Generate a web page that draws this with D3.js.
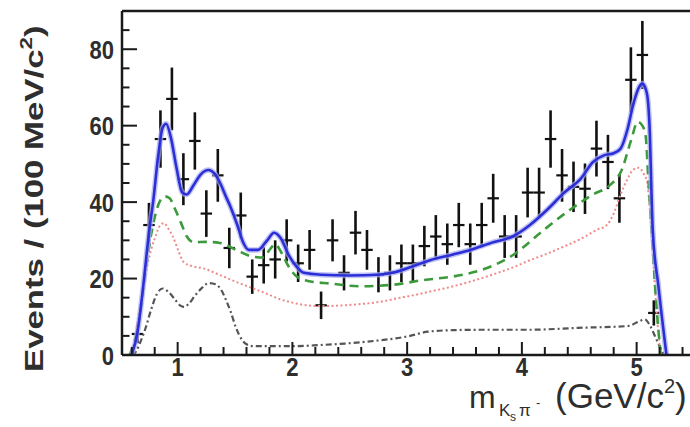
<!DOCTYPE html>
<html>
<head>
<meta charset="utf-8">
<script src="https://cdn.jsdelivr.net/npm/d3@7"></script>
<style>
  html, body { margin: 0; padding: 0; background: #fff; }
  svg { display: block; }
</style>
</head>
<body>
<svg id="chart" width="690" height="427"></svg>
<script>
// ---------- data ----------
const binCenters = [0.65,0.75,0.85,0.95,1.05,1.15,1.25,1.35,1.45,1.55,1.65,1.75,1.85,1.95,2.05,2.15,2.25,2.35,2.45,2.55,2.65,2.75,2.85,2.95,3.05,3.15,3.25,3.35,3.45,3.55,3.65,3.75,3.85,3.95,4.05,4.15,4.25,4.35,4.45,4.55,4.65,4.75,4.85,4.95,5.05,5.15];
const counts =     [5.5,34,56.5,67,46,56,37,47,28,36.5,20.5,23.5,25,30,24,27.5,13,30,21.5,32,27.5,21,21.5,24,24,28.5,31,29,34,29,34,41,31,31,42.5,42.5,56.5,47,44,43.5,54,50.5,41,72,78.5,11];
const errors =     [2.4,5.8,7.5,8.2,6.8,7.5,6.1,6.9,5.3,6.0,4.5,4.8,5.0,5.5,4.9,5.2,3.6,5.5,4.6,5.7,5.2,4.6,4.6,4.9,4.9,5.3,5.6,5.4,5.8,5.4,5.8,6.4,5.6,5.6,6.5,6.5,7.5,6.9,6.6,6.6,7.3,7.1,6.4,8.5,8.9,3.3];
const binWidth = 0.1;

// fit components: [mass, events]
const totalFit = [[0.60,0],[0.65,6],[0.70,18],[0.75,32],[0.79,41],[0.83,52],[0.87,59.5],[0.90,60.5],[0.94,57],[0.99,49],[1.04,42.5],[1.08,42],[1.14,44.5],[1.20,47.2],[1.27,48.4],[1.32,47.5],[1.37,45],[1.42,41.5],[1.46,38.8],[1.52,34],[1.57,29.5],[1.62,27.5],[1.70,27.5],[1.78,30],[1.84,32],[1.90,30.5],[1.97,26],[2.04,23],[2.10,21.5],[2.25,21],[2.50,20.8],[2.75,21],[2.90,21.7],[3.05,23.2],[3.20,24.8],[3.40,26.3],[3.55,27.5],[3.75,29.5],[3.92,31],[4.07,34],[4.22,38],[4.37,42.5],[4.51,46],[4.62,50.5],[4.72,52.3],[4.80,52.8],[4.86,54],[4.92,59],[4.97,65.5],[5.02,70],[5.05,71],[5.08,69.5],[5.10,66],[5.115,58],[5.13,42],[5.14,33],[5.19,18],[5.26,0]];
const compA = [[0.58,0],[0.62,3],[0.67,10],[0.72,22],[0.76,30],[0.80,36],[0.85,40.5],[0.89,41.5],[0.93,41],[0.98,38],[1.03,34.5],[1.08,31],[1.14,29.5],[1.25,29.6],[1.37,29.3],[1.51,27.5],[1.66,25.7],[1.75,25.5],[1.80,27.5],[1.85,29],[1.90,27],[1.97,23],[2.04,20.5],[2.15,19.3],[2.33,18.7],[2.59,18],[2.85,18.3],[3.14,19.6],[3.43,20.7],[3.69,22.7],[3.92,26.1],[4.19,32.7],[4.42,38],[4.62,42],[4.77,44.5],[4.87,48.4],[4.95,56],[5.01,61],[5.05,60],[5.08,57],[5.10,47],[5.13,33],[5.17,14],[5.21,0]];
const compB = [[0.60,0],[0.63,5],[0.68,14],[0.74,24],[0.80,30.5],[0.85,34],[0.88,34.5],[0.92,33],[0.96,30.9],[1.01,27],[1.05,24.4],[1.12,23.3],[1.22,22.7],[1.37,20.9],[1.52,19],[1.66,17.4],[1.78,16],[1.89,14.6],[2.00,13.7],[2.10,13.1],[2.24,12.8],[2.45,13],[2.62,13.4],[2.78,14],[2.91,14.8],[3.05,15.6],[3.20,16.6],[3.35,17.6],[3.49,18.7],[3.64,20],[3.78,21.4],[3.93,23],[4.07,24.8],[4.22,26.5],[4.36,28.3],[4.50,30.2],[4.65,32.7],[4.74,34],[4.80,37],[4.86,42],[4.92,46],[4.97,48.5],[5.02,49],[5.06,47.5],[5.09,45.5],[5.12,36],[5.15,22],[5.18,9],[5.21,0]];
const compC = [[0.60,0],[0.64,1],[0.67,3],[0.72,7],[0.77,12],[0.82,16],[0.87,17.4],[0.92,16.5],[0.97,14.8],[1.02,13],[1.06,12.6],[1.10,13.5],[1.15,15.5],[1.21,17.5],[1.27,18.8],[1.33,18.5],[1.38,17],[1.42,14.5],[1.46,11.5],[1.51,7],[1.56,4],[1.60,2.8],[1.66,2.3],[2.00,2.3],[2.24,2.6],[2.46,3],[2.75,3.8],[3.01,4.9],[3.18,6.1],[3.40,6.5],[3.62,6.6],[4.06,6.6],[4.49,7.1],[4.93,7.6],[5.02,8.8],[5.07,9.3],[5.12,7.5],[5.16,4.9],[5.20,2.3],[5.24,0]];

const xMajorTicks = [1,2,3,4,5];
const xMinorTicks = [0.6,0.8,1.2,1.4,1.6,1.8,2.2,2.4,2.6,2.8,3.2,3.4,3.6,3.8,4.2,4.4,4.6,4.8,5.2,5.4];
const yMajorTicks = [0,20,40,60,80];
const yMinorTicks = [5,10,15,25,30,35,45,50,55,65,70,75,85];

// ---------- layout ----------
const svg = d3.select("#chart");
const x = d3.scaleLinear().domain([0.515, 5.5]).range([122, 694]);
const y = d3.scaleLinear().domain([0, 90]).range([355, 11]);
const font = "'Liberation Sans', Arial, Helvetica, sans-serif";
const axisColor = "#1a1a1a";
const labelColor = "#2e2e2e";

// ---------- data points ----------
const pts = svg.append("g");
binCenters.forEach((c, i) => {
  pts.append("line")
    .attr("x1", x(c)).attr("x2", x(c))
    .attr("y1", y(counts[i] - errors[i])).attr("y2", y(Math.min(counts[i] + errors[i], 90)))
    .attr("stroke", "#111").attr("stroke-width", 2.6);
  pts.append("line")
    .attr("x1", x(c - binWidth / 2)).attr("x2", x(c + binWidth / 2))
    .attr("y1", y(counts[i])).attr("y2", y(counts[i]))
    .attr("stroke", "#111").attr("stroke-width", 2.2);
});

// ---------- curves ----------
const line = d3.line().x(d => x(d[0])).y(d => y(d[1])).curve(d3.curveMonotoneX);
const curves = svg.append("g").attr("fill", "none");
curves.append("path").attr("d", line(compC))
  .attr("stroke", "#555").attr("stroke-width", 2.2).attr("stroke-dasharray", "6,3,2,3");
curves.append("path").attr("d", line(compB))
  .attr("stroke", "#f08a8a").attr("stroke-width", 2).attr("stroke-dasharray", "2,2.5");
curves.append("path").attr("d", line(compA))
  .attr("stroke", "#3c9a3c").attr("stroke-width", 2.6).attr("stroke-dasharray", "9,6");
curves.append("path").attr("d", line(totalFit))
  .attr("stroke", "#a8acf0").attr("stroke-width", 5.5).attr("opacity", 0.7);
curves.append("path").attr("d", line(totalFit))
  .attr("stroke", "#2c2ed8").attr("stroke-width", 2.6);

// ---------- frame & axes ----------
const frame = svg.append("g").attr("stroke", axisColor).attr("stroke-width", 2.5).attr("fill", "none");
frame.append("line").attr("x1", x(0.515)).attr("x2", x(0.515)).attr("y1", y(90)).attr("y2", y(0));
frame.append("line").attr("x1", x(0.515)).attr("x2", x(5.5)).attr("y1", y(0)).attr("y2", y(0));
frame.append("line").attr("x1", x(0.515)).attr("x2", x(5.5)).attr("y1", y(90)).attr("y2", y(90));

const ticks = svg.append("g").attr("stroke", axisColor).attr("stroke-width", 2);
yMajorTicks.forEach(v => ticks.append("line").attr("x1", x(0.515)).attr("x2", x(0.515) + 15).attr("y1", y(v)).attr("y2", y(v)));
yMinorTicks.forEach(v => ticks.append("line").attr("x1", x(0.515)).attr("x2", x(0.515) + 7.5).attr("y1", y(v)).attr("y2", y(v)));
xMajorTicks.forEach(v => ticks.append("line").attr("x1", x(v)).attr("x2", x(v)).attr("y1", y(0)).attr("y2", y(0) - 13));
xMinorTicks.forEach(v => ticks.append("line").attr("x1", x(v)).attr("x2", x(v)).attr("y1", y(0)).attr("y2", y(0) - 8));

// tick labels
yMajorTicks.forEach(v => {
  svg.append("text")
    .attr("transform", `translate(114,${y(v)}) scale(1,1.2)`)
    .attr("dy", "0.36em")
    .attr("text-anchor", "end")
    .attr("font-family", font).attr("font-weight", "bold").attr("font-size", 22)
    .attr("fill", labelColor).text(v);
});
xMajorTicks.forEach(v => {
  svg.append("text")
    .attr("transform", `translate(${x(v)},376) scale(1,1.2)`)
    .attr("text-anchor", "middle")
    .attr("font-family", font).attr("font-weight", "bold").attr("font-size", 22)
    .attr("fill", labelColor).text(v);
});

// y title
const yt = svg.append("g").attr("transform", "translate(43,372) rotate(-90) scale(1.39,1)")
  .append("text")
  .attr("font-family", font).attr("font-weight", "bold").attr("font-size", 25)
  .attr("fill", labelColor);
yt.append("tspan").text("Events / (100 MeV/c");
yt.append("tspan").attr("font-size", 16).attr("dy", -11).text("2");
yt.append("tspan").attr("dy", 11).text(")");

// x title
const xt = svg.append("text").attr("x", 469).attr("y", 408)
  .attr("font-family", font).attr("font-size", 32).attr("fill", labelColor);
xt.append("tspan").text("m");
xt.append("tspan").attr("font-size", 17).attr("x", 499).attr("dy", 8).text("K");
xt.append("tspan").attr("font-size", 12).attr("x", 510).attr("dy", 5).text("s");
xt.append("tspan").attr("font-size", 17).attr("x", 519).attr("dy", -5).text("π");
xt.append("tspan").attr("font-size", 13).attr("x", 536).attr("dy", -9).text("-");
xt.append("tspan").attr("font-size", 35).attr("x", 555).attr("dy", 1).text("(GeV/c");
xt.append("tspan").attr("font-size", 20).attr("dy", -15).text("2");
xt.append("tspan").attr("font-size", 35).attr("dy", 15).text(")");
</script>
</body>
</html>
